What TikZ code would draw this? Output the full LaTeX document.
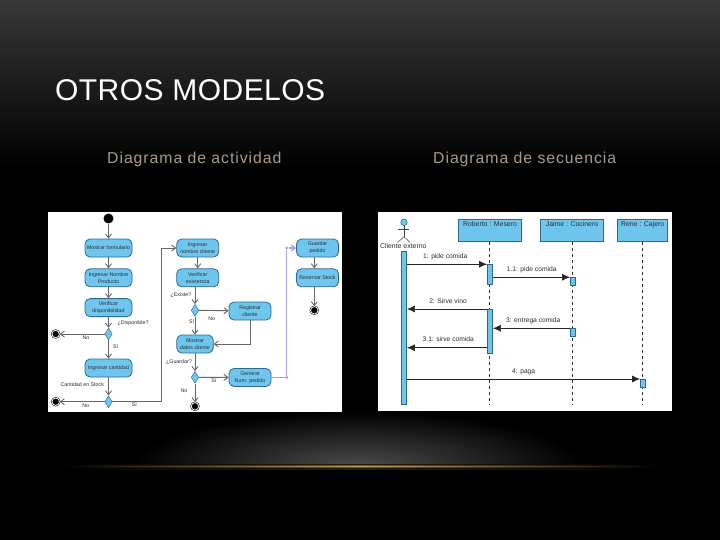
\documentclass[tikz,border=0pt]{standalone}
\usepackage{fontspec}
\usepackage{xcolor}
\usepackage{tikz}
\usetikzlibrary{
    arrows.meta,
    positioning,
    shapes.geometric
}
\setmainfont{Liberation Sans}
\newfontfamily\titlefont[LetterSpace=1.5]{Liberation Sans}
\newfontfamily\subtitlefont[LetterSpace=6]{Liberation Sans}
\definecolor{umlblue}{HTML}{6EC6EE}
\definecolor{umledge}{HTML}{2F6A8C}
\definecolor{umltext}{HTML}{2E2E2E}
\definecolor{goldglow}{HTML}{CBA25E}
\definecolor{paleviolet}{HTML}{A8A4E4}
\definecolor{subtan}{HTML}{A89A8C}

\begin{document}
\begin{tikzpicture}[
    x=1pt,
    y=-1pt,
    panel/.style={
        fill=white,
        anchor=north west,
        inner sep=0pt
    },
    actbox/.style={
        draw=umledge,
        fill=umlblue,
        rounded corners=5pt,
        line width=.8pt,
        minimum height=18pt,
        minimum width=42pt,
        inner sep=0pt,
        align=center,
        text=umltext,
        font=\fontsize{5.3pt}{7pt}\selectfont
    },
    decision/.style={
        diamond,
        aspect=.65,
        draw=umledge,
        fill=umlblue,
        line width=.4pt,
        minimum width=7.5pt,
        minimum height=12pt,
        inner sep=0pt
    },
    startnode/.style={
        circle,
        fill=black,
        minimum size=10pt,
        inner sep=0pt
    },
    endnode/.style={
        circle,
        fill=black,
        draw=black,
        double=white,
        double distance=.8pt,
        line width=.5pt,
        minimum size=7.5pt,
        inner sep=0pt
    },
    flow/.style={
        -{Straight Barb[length=4pt,width=6pt]},
        draw=black!60,
        line width=.9pt
    },
    fork/.style={
        -{Straight Barb[length=4pt,width=6pt]},
        draw=paleviolet,
        line width=1.2pt
    },
    guard/.style={
        text=umltext,
        inner sep=0pt,
        font=\fontsize{5.3pt}{7pt}\selectfont
    },
    lifebox/.style={
        draw=umledge,
        fill=umlblue,
        line width=.6pt,
        minimum height=22.4pt,
        inner sep=0pt
    },
    lifetext/.style={
        text=umltext,
        inner sep=0pt,
        font=\fontsize{6.9pt}{8pt}\selectfont
    },
    lifeline/.style={
        dashed,
        draw=black!80,
        line width=.7pt
    },
    bar/.style={
        draw=umledge,
        fill=umlblue,
        line width=.5pt,
        minimum width=5.4pt,
        inner sep=0pt
    },
    msg/.style={
        -{Latex[length=8pt,width=7pt]},
        draw=black!85,
        line width=.7pt
    },
    msgtext/.style={
        text=umltext,
        inner sep=0pt,
        font=\fontsize{6.7pt}{8pt}\selectfont
    }
]

% background
\fill[black] (0,0) rectangle (720,540);
\shade[top color=black!78, bottom color=black] (0,0) rectangle (720,168);
\begin{scope}
    \clip (100,405) rectangle (620,466);
    \shade[shading=radial, inner color=black!70, outer color=black] (358,467) ellipse (225 and 56);
\end{scope}
\foreach \ytop/\ybot/\tint in {464.5/465.5/18, 465.5/466.2/50, 466.2/467.8/100, 467.8/468.5/50, 468.5/469.5/18}
    \shade[left color=black, right color=black, middle color=goldglow!\tint!black] (60,\ytop) rectangle (660,\ybot);

% titles
\node[anchor=base west, inner sep=0pt, text=white, font=\fontsize{30pt}{32pt}\titlefont] (titulo) at (55,101) {OTROS MODELOS};
\node[anchor=base west, inner sep=0pt, text=subtan, font=\fontsize{15.8pt}{18pt}\subtitlefont] (subactividad) at (107,164) {Diagrama de actividad};
\node[anchor=base west, inner sep=0pt, text=subtan, font=\fontsize{15.8pt}{18pt}\subtitlefont] (subsecuencia) at (433,164) {Diagrama de secuencia};

\node[panel, minimum width=294pt, minimum height=200pt] (panelactividad) at (48,212) {};
\node[panel, minimum width=294pt, minimum height=199pt] (panelsecuencia) at (378,212) {};

% activity diagram
\node[startnode] (inicio) at (108.5,218.5) {};
\node[actbox, minimum width=47pt] (formulario) at (108.5,248) {Mostrar formulario};
\node[actbox, minimum width=47pt, below=11pt of formulario] (producto) {Ingresar Nombre\\Producto};
\node[actbox, minimum width=47pt, below=11pt of producto] (disponibilidad) {Verificar\\disponibilidad};
\node[decision] (disponible) at (108.5,334) {};
\node[endnode] (finno) at (55.7,334) {};
\node[actbox, minimum width=47pt] (cantidad) at (108.5,368) {Ingresar cantidad};
\node[decision] (stock) at (108.5,401.7) {};
\node[endnode] (finstock) at (55.7,401.7) {};
\coordinate (codo) at (161,248);

\node[actbox] (cliente) at (197.7,248) {Ingresar\\nombre cliente};
\node[actbox, below=11pt of cliente] (existencia) {Verificar\\existencia};
\node[decision] (existe) at (195,310.3) {};
\node[actbox] (registrar) at (250,311) {Registrar\\cliente};
\node[actbox, minimum width=36.5pt] (datos) at (195,344) {Mostrar\\datos cliente};
\node[decision] (guardar) at (195,377.3) {};
\node[actbox] (generar) at (250,377.5) {Generar\\Num. pedido};
\node[endnode] (finguardar) at (195,406.3) {};
\node[circle, fill=paleviolet, inner sep=0pt, minimum size=3.4pt] (forkabajo) at (286.7,377.5) {};
\node[circle, fill=paleviolet, inner sep=0pt, minimum size=3.4pt] (forkarriba) at (286.7,248) {};

\node[actbox] (pedido) at (317.5,248) {Guardar\\pedido};
\node[actbox, below=11pt of pedido] (reservar) {Reservar Stock};
\node[endnode] (finreserva) at (314.3,310.3) {};

\draw[flow] (inicio) -- (formulario);
\draw[flow] (formulario) -- (producto);
\draw[flow] (producto) -- (disponibilidad);
\draw[flow] (disponibilidad) -- (disponible);
\draw[flow] (disponible) -- (finno);
\draw[flow] (disponible) -- (cantidad);
\draw[flow] (cantidad) -- (stock);
\draw[flow] (stock) -- (finstock);
\draw[flow] (stock) -| (codo) -- (cliente);
\draw[flow] (cliente.south -| existencia) -- (existencia);
\draw[flow] (existencia.south -| existe) -- (existe);
\draw[flow] (existe) -- (datos);
\draw[flow] (existe) -- (registrar);
\draw[flow] (registrar) |- (datos);
\draw[flow] (datos) -- (guardar);
\draw[flow] (guardar) -- (generar);
\draw[flow] (guardar) -- (finguardar);
\draw[paleviolet, line width=1.2pt] (generar) -- (forkabajo) -- (forkarriba);
\draw[fork] (forkarriba) -- (pedido);
\draw[flow] (pedido.south -| finreserva) -- (reservar.north -| finreserva);
\draw[flow] (reservar.south -| finreserva) -- (finreserva);

\node[guard] (lbldisponible) at (133,323) {¿Disponible?};
\node[guard] (lblno) at (86,338) {No};
\node[guard] (lblsi) at (115.7,346.7) {Sí};
\node[guard] (lblstock) at (82.3,385) {Cantidad en Stock};
\node[guard] (lblnostock) at (85.7,405.3) {No};
\node[guard] (lblsistock) at (134.3,405) {Sí};
\node[guard] (lblexiste) at (181,295) {¿Existe?};
\node[guard] (lblsiexiste) at (191.7,322) {Sí};
\node[guard] (lblnoexiste) at (211.7,318.7) {No};
\node[guard] (lblguardar) at (179,361.7) {¿Guardar?};
\node[guard] (lblnoguardar) at (184,391) {No};
\node[guard] (lblsiguardar) at (214,380.7) {Sí};

% sequence diagram
\node[circle, draw=umledge, fill=umlblue, line width=.6pt, minimum size=6.5pt, inner sep=0pt] (cabeza) at (404,222.3) {};
\coordinate (cadera) at (404,236.7);
\coordinate (brazoizq) at (398.3,229);
\coordinate (brazoder) at (409.3,229);
\coordinate (pieizq) at (397.7,242.5);
\coordinate (pieder) at (410,242.5);
\draw[black!75, line width=.5pt] (cabeza) -- (cadera);
\draw[black!75, line width=.5pt] (brazoizq) -- (brazoder);
\draw[black!75, line width=.5pt] (pieizq) -- (cadera) -- (pieder);
\node[lifetext] (actor) at (403.3,246.5) {Cliente externo};

\node[lifebox, minimum width=63.4pt] (roberto) at (490,230.5) {};
\node[lifebox, minimum width=63.4pt] (jaime) at (572,230.5) {};
\node[lifebox, minimum width=50pt] (rene) at (642.7,230.5) {};
\node[lifetext, below=2pt of roberto.north] (txtroberto) {Roberto : Mesero};
\node[lifetext, below=2pt of jaime.north] (txtjaime) {Jaime : Cocinero};
\node[lifetext, below=2pt of rene.north] (txtrene) {Rene : Cajero};

\coordinate (finroberto) at (489.3,404.3);
\coordinate (finjaime) at (572,404.3);
\coordinate (finrene) at (642.7,404.3);
\draw[lifeline] (roberto.south -| finroberto) -- (finroberto);
\draw[lifeline] (jaime.south) -- (finjaime);
\draw[lifeline] (rene.south) -- (finrene);

\node[bar, anchor=north, minimum height=153.3pt] (barcliente) at (404,251) {};
\node[bar, anchor=north, minimum height=19.4pt] (barroberto) at (490,264.3) {};
\node[bar, anchor=north, minimum height=44.3pt] (barsirve) at (490,309) {};
\node[bar, anchor=north, minimum height=7.7pt] (barjaime) at (573,277.3) {};
\node[bar, anchor=north, minimum height=7.4pt] (barentrega) at (573,328.3) {};
\node[bar, anchor=north, minimum height=7.7pt] (barrene) at (643,379) {};
\coordinate (servir) at (490,347.7);

\draw[msg] (barcliente.east |- barroberto.north) -- (barroberto.north west);
\draw[msg] (barroberto.east |- barjaime.north) -- (barjaime.north west);
\draw[msg] (barsirve.north west) -- (barcliente.east |- barsirve.north);
\draw[msg] (barentrega.north west) -- (barsirve.east |- barentrega.north);
\draw[msg] (barsirve.west |- servir) -- (barcliente.east |- servir);
\draw[msg] (barcliente.east |- barrene.north) -- (barrene.north west);

\node[msgtext] (txtpide) at (445.3,256.7) {1: pide comida};
\node[msgtext] (txtpidedos) at (531.7,269.7) {1.1: pide comida};
\node[msgtext] (txtvino) at (448,301.3) {2: Sirve vino};
\node[msgtext] (txtentrega) at (533.3,320.7) {3: entrega comida};
\node[msgtext] (txtsirve) at (448.3,339.3) {3.1: sirve comida};
\node[msgtext] (txtpaga) at (523.7,371.7) {4: paga};

\end{tikzpicture}
\end{document}
